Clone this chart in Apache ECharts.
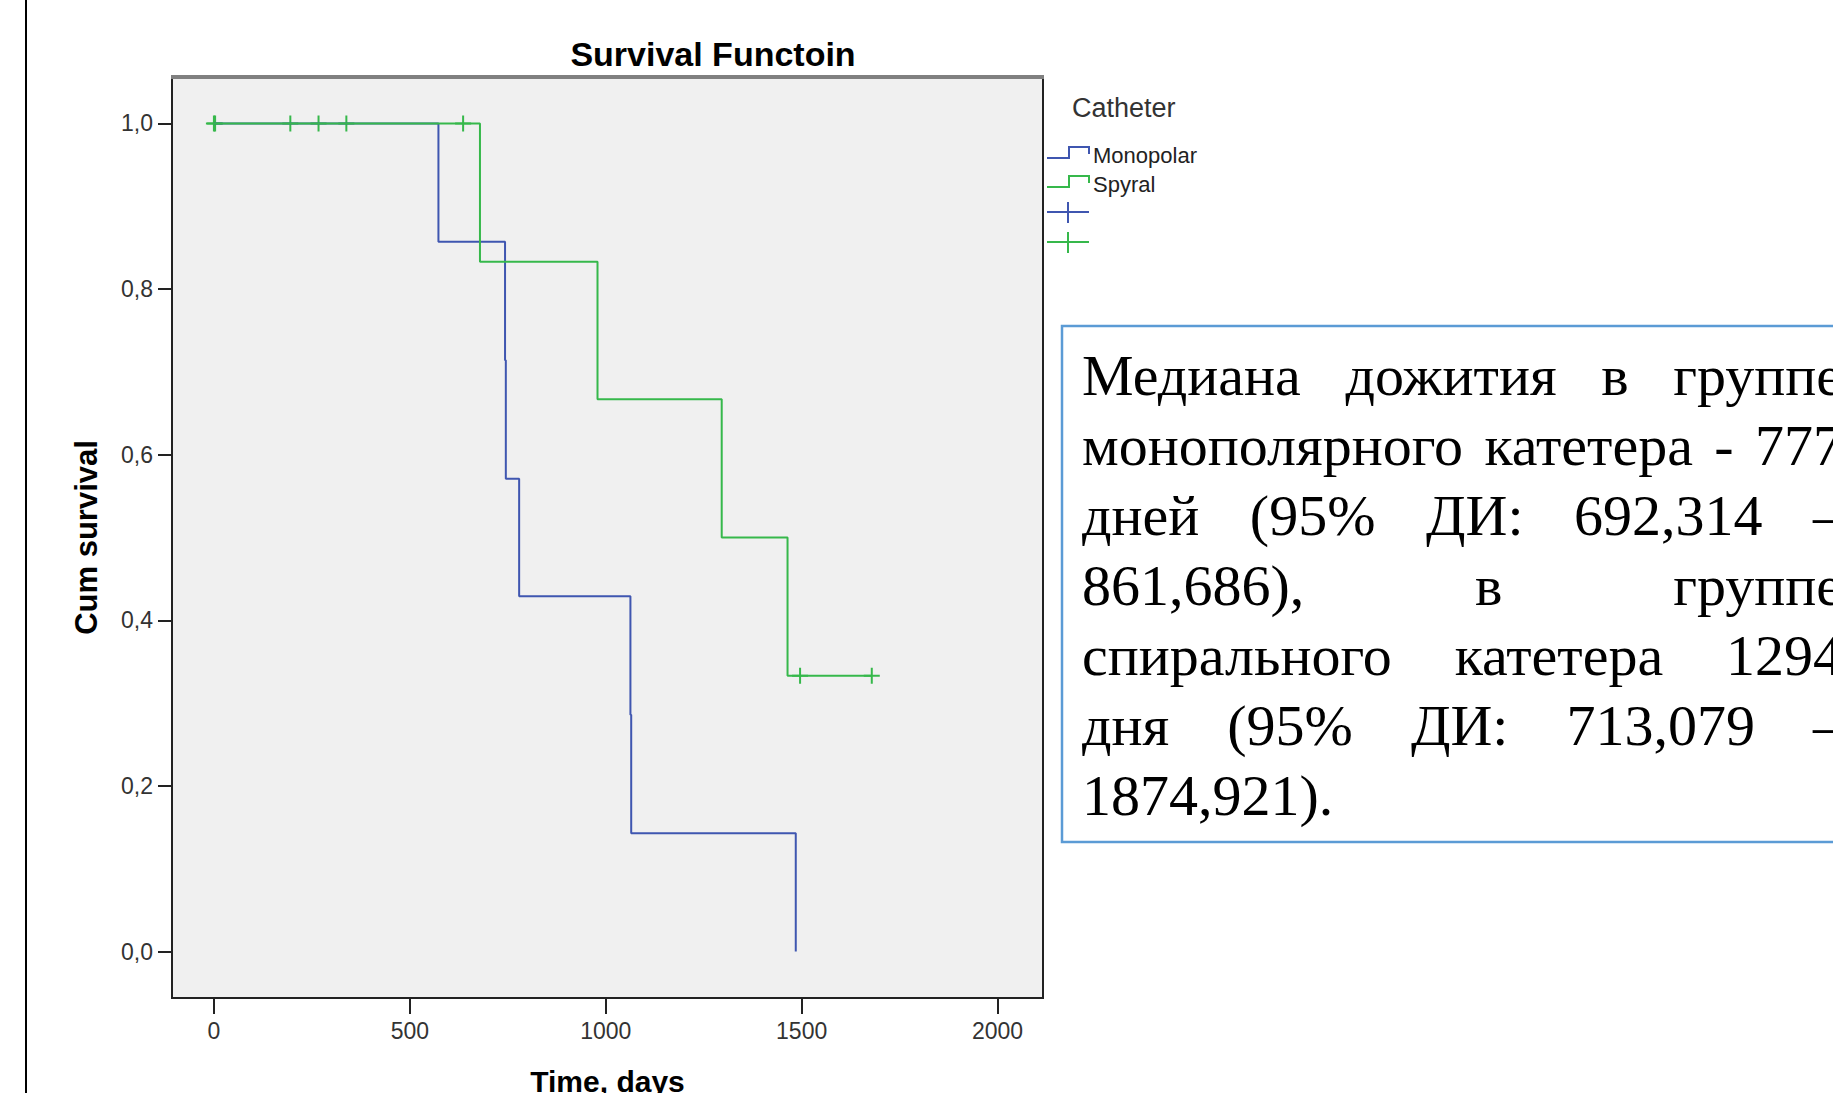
<!DOCTYPE html>
<html>
<head>
<meta charset="utf-8">
<style>
  html, body { margin: 0; padding: 0; background: #fff; }
  #chart { width: 1833px; height: 1093px; }
</style>
<script src="https://cdn.jsdelivr.net/npm/echarts@6/dist/echarts.min.js"></script>
</head>
<body>
<div id="chart"></div>
<script>
const xTicks = [0, 500, 1000, 1500, 2000];
const yTicks = [0, 0.2, 0.4, 0.6, 0.8, 1.0];

// Monopolar: every case is an event, nothing censored
const monoTimes = [0, 573, 743, 745, 779, 1063, 1065, 1485];
const monoSurv = [1, 0.857, 0.714, 0.571, 0.429, 0.286, 0.143, 0];

const spyTimes = [0, 679, 979, 1296, 1464, 1679];
const spySurv = [1, 0.833, 0.667, 0.5, 0.333, 0.333];

// censored Spyral cases (the "+" marks)
const spyCensTimes = [0, 3, 195, 267, 338, 636, 1496, 1679];
const spyCensSurv = [1, 1, 1, 1, 1, 1, 0.333, 0.333];

const legendTitle = 'Catheter';
const groupNames = ['Monopolar', 'Spyral'];

const noteLines = [
  'Медиана дожития в группе',
  'монополярного катетера - 777',
  'дней (95% ДИ: 692,314 –',
  '861,686), в группе',
  'спирального катетера 1294',
  'дня (95% ДИ: 713,079 –',
  '1874,921).'
];

const BLUE = '#3f56b0';
const GREEN = '#36b84b';

const NOTE_FONT = '58px "Liberation Serif", "Times New Roman", serif';
const NOTE_LEFT = 1082;
const NOTE_RIGHT = 1842;
const NOTE_BASE = 393;
const NOTE_STEP = 70;

const pairs = (xs, ys) => xs.map((x, i) => [x, ys[i]]);

const measureCtx = document.createElement('canvas').getContext('2d');
measureCtx.font = NOTE_FONT;

// justified paragraph, word by word (last line left aligned)
function noteWords() {
  const out = [];
  noteLines.forEach((line, i) => {
    const words = line.split(' ');
    const widths = words.map((w) => measureCtx.measureText(w).width);
    const total = widths.reduce((a, b) => a + b, 0);
    const last = i === noteLines.length - 1;
    const gap = last || words.length < 2
      ? measureCtx.measureText(' ').width
      : (NOTE_RIGHT - NOTE_LEFT - total) / (words.length - 1);
    let x = NOTE_LEFT;
    words.forEach((w, j) => {
      out.push({
        type: 'text',
        z: 20,
        style: {
          text: w,
          x: x,
          y: NOTE_BASE + i * NOTE_STEP - 18,
          font: NOTE_FONT,
          fill: '#000',
          textVerticalAlign: 'middle'
        }
      });
      x += widths[j] + gap;
    });
  });
  return out;
}

function legendItems() {
  const line = (x1, y1, x2, y2, color) => ({
    type: 'line', z: 20,
    shape: { x1, y1, x2, y2 },
    style: { stroke: color, lineWidth: 2 }
  });
  const step = (y, color) => ({
    type: 'polyline', z: 20,
    shape: { points: [[1047, y + 11], [1069, y + 11], [1069, y], [1089, y], [1089, y + 7]] },
    style: { stroke: color, lineWidth: 2, fill: null }
  });
  const label = (text, y) => ({
    type: 'text', z: 20,
    style: {
      text, x: 1093, y,
      font: '22px "Liberation Sans", Arial, sans-serif',
      fill: '#222', textVerticalAlign: 'middle'
    }
  });
  return [
    {
      type: 'text', z: 20,
      style: {
        text: legendTitle, x: 1072, y: 108,
        font: '27px "Liberation Sans", Arial, sans-serif',
        fill: '#333', textVerticalAlign: 'middle'
      }
    },
    step(147, BLUE), label(groupNames[0], 155),
    step(176, GREEN), label(groupNames[1], 184),
    line(1047, 212, 1089, 212, BLUE), line(1068, 202, 1068, 223, BLUE),
    line(1047, 242, 1089, 242, GREEN), line(1068, 232, 1068, 253, GREEN)
  ];
}

const chart = echarts.init(document.getElementById('chart'), null, { renderer: 'svg' });

const option = {
  animation: false,
  backgroundColor: '#fff',
  title: {
    text: 'Survival Functoin',
    left: 708,
    top: 32,
    textAlign: 'center',
    textStyle: {
      fontFamily: '"Liberation Sans", Arial, sans-serif',
      fontSize: 34,
      fontWeight: 'bold',
      color: '#000'
    }
  },
  grid: {
    left: 172,
    right: 790,
    top: 77,
    bottom: 95,
    outerBoundsMode: 'none',
    show: true,
    backgroundColor: '#f0f0f0',
    borderColor: '#222',
    borderWidth: 2
  },
  xAxis: {
    type: 'value',
    min: -107,
    max: 2116,
    name: 'Time, days',
    nameLocation: 'middle',
    nameGap: 68,
    nameTextStyle: {
      fontFamily: '"Liberation Sans", Arial, sans-serif',
      fontSize: 30,
      fontWeight: 'bold',
      color: '#000'
    },
    axisLine: { show: true, onZero: false, lineStyle: { color: '#222', width: 2 } },
    axisTick: { show: true, length: 16, customValues: xTicks, lineStyle: { color: '#222', width: 2 } },
    axisLabel: {
      customValues: xTicks,
      margin: 21,
      fontFamily: '"Liberation Sans", Arial, sans-serif',
      fontSize: 23,
      color: '#333',
      formatter: (v) => String(v)
    },
    splitLine: { show: false }
  },
  yAxis: {
    type: 'value',
    min: -0.056,
    max: 1.056,
    name: 'Cum survival',
    nameLocation: 'middle',
    nameGap: 70,
    nameTextStyle: {
      fontFamily: '"Liberation Sans", Arial, sans-serif',
      fontSize: 31,
      fontWeight: 'bold',
      color: '#000'
    },
    axisLine: { show: true, onZero: false, lineStyle: { color: '#222', width: 2 } },
    axisTick: { show: true, length: 14, customValues: yTicks, lineStyle: { color: '#222', width: 2 } },
    axisLabel: {
      customValues: yTicks,
      margin: 19,
      fontFamily: '"Liberation Sans", Arial, sans-serif',
      fontSize: 23,
      color: '#333',
      formatter: (v) => v.toFixed(1).replace('.', ',')
    },
    splitLine: { show: false }
  },
  graphic: [
    // page edge line on the left
    { type: 'line', shape: { x1: 26, y1: 0, x2: 26, y2: 1093 }, style: { stroke: '#000', lineWidth: 2 } },
    // grey top frame of the plot
    { type: 'line', z: 10, shape: { x1: 171, y1: 77, x2: 1044, y2: 77 }, style: { stroke: '#808080', lineWidth: 4 } },
    // note box
    {
      type: 'rect', z: 15,
      shape: { x: 1062, y: 326, width: 900, height: 516 },
      style: { fill: '#fff', stroke: '#5b9bd5', lineWidth: 2.5 }
    }
  ].concat(legendItems(), noteWords()),
  series: [
    {
      name: groupNames[0],
      type: 'line',
      step: 'end',
      showSymbol: false,
      data: pairs(monoTimes, monoSurv),
      lineStyle: { color: BLUE, width: 2 },
      itemStyle: { color: BLUE }
    },
    {
      name: groupNames[1],
      type: 'line',
      step: 'end',
      showSymbol: false,
      data: pairs(spyTimes, spySurv),
      lineStyle: { color: GREEN, width: 2 },
      itemStyle: { color: GREEN }
    },
    {
      name: groupNames[1] + ' censored',
      type: 'scatter',
      symbol: 'path://M0,8L16,8M8,0L8,16',
      symbolSize: 16,
      data: pairs(spyCensTimes, spyCensSurv),
      itemStyle: { color: 'none', borderColor: GREEN, borderWidth: 2, opacity: 1 }
    }
  ]
};

chart.setOption(option);
</script>
</body>
</html>
